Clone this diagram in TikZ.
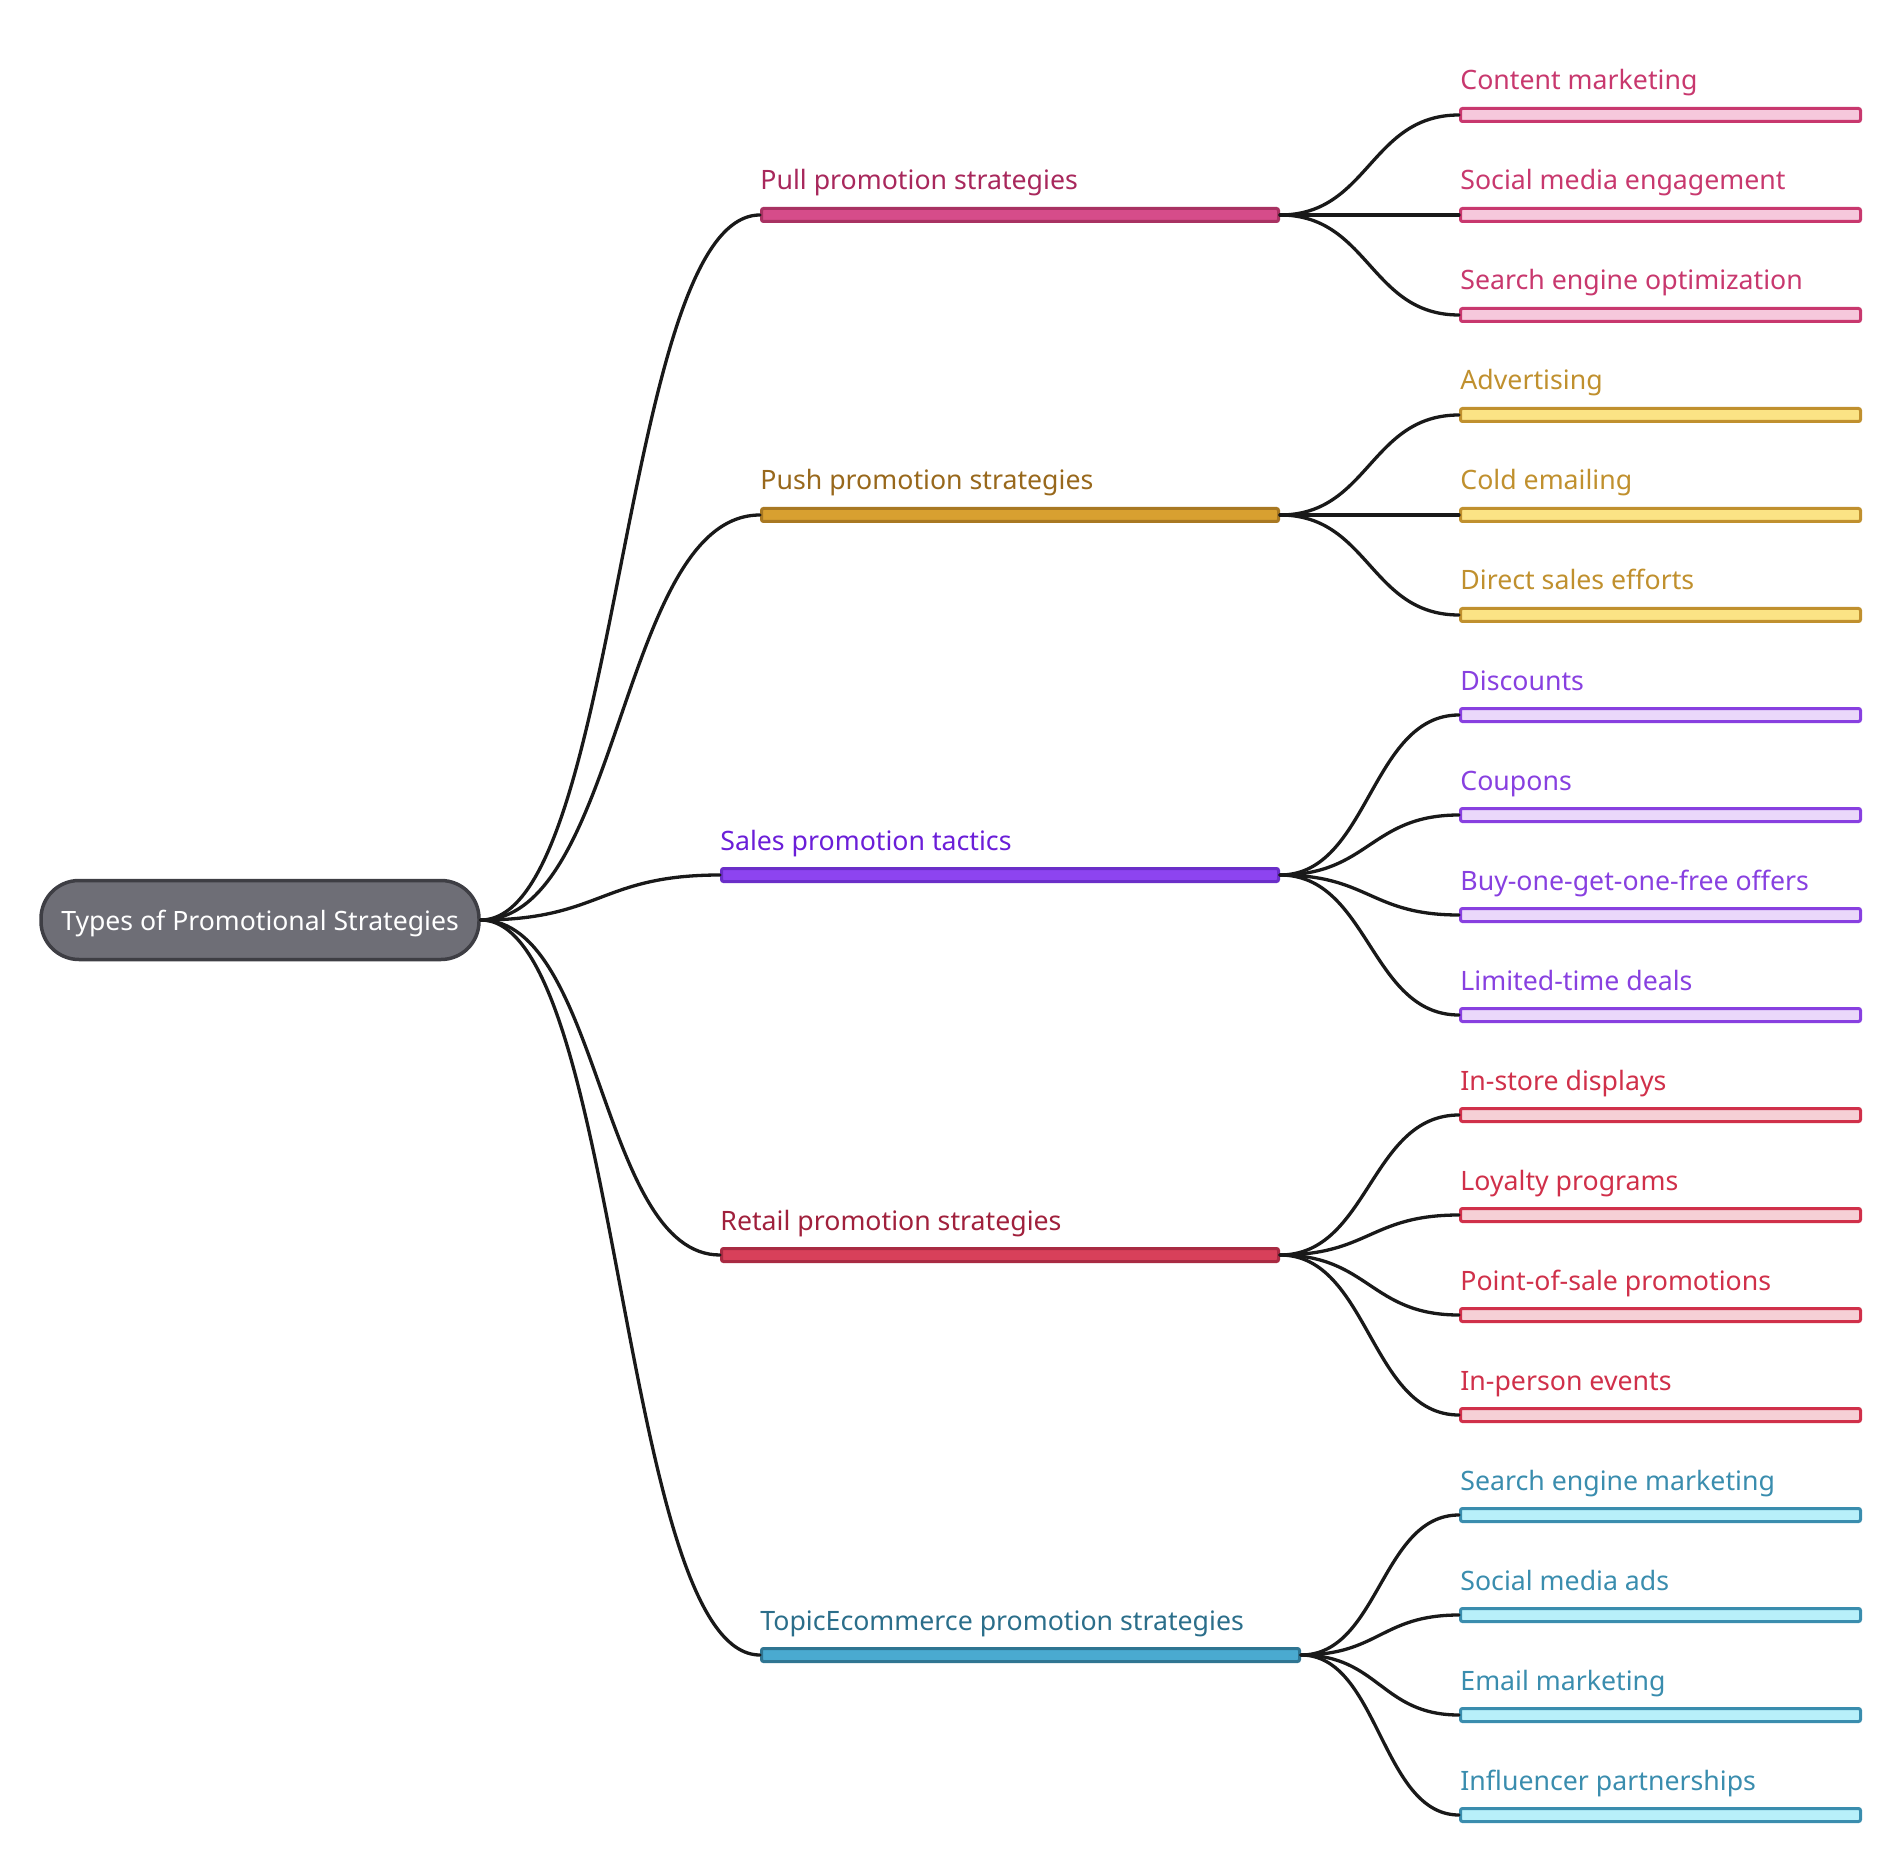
\documentclass[tikz,border=0pt]{standalone}
\usepackage{fontspec}
\setmainfont{Noto Sans}
\definecolor{rootfill}{HTML}{6E6E76}
\definecolor{rootline}{HTML}{3E3E44}
\definecolor{pullT}{HTML}{A8285C}\definecolor{pullF}{HTML}{D64C8A}\definecolor{pullD}{HTML}{A83262}
\definecolor{pullL}{HTML}{C8386E}\definecolor{pullLF}{HTML}{F6C8DC}
\definecolor{pushT}{HTML}{98681C}\definecolor{pushF}{HTML}{D8A030}\definecolor{pushD}{HTML}{A87822}
\definecolor{pushL}{HTML}{C0902E}\definecolor{pushLF}{HTML}{FBE385}
\definecolor{saleT}{HTML}{6B1ED8}\definecolor{saleF}{HTML}{8D44F0}\definecolor{saleD}{HTML}{6A2EC8}
\definecolor{saleL}{HTML}{8840E0}\definecolor{saleLF}{HTML}{EAD8FA}
\definecolor{retT}{HTML}{A0203C}\definecolor{retF}{HTML}{D8405A}\definecolor{retD}{HTML}{A82A42}
\definecolor{retL}{HTML}{D0304A}\definecolor{retLF}{HTML}{F6D0D6}
\definecolor{ecoT}{HTML}{2B6E8A}\definecolor{ecoF}{HTML}{4AAAD0}\definecolor{ecoD}{HTML}{2F7592}
\definecolor{ecoL}{HTML}{3A8DAE}\definecolor{ecoLF}{HTML}{B8F0FA}
\begin{document}
\begin{tikzpicture}[x=0.5pt,y=-0.5pt,line cap=round]
	\tikzstyle{root}=[draw=rootline,fill=rootfill,line width=1.75pt,rounded corners=19pt,minimum width=219pt,minimum height=39.5pt,inner sep=0pt,text depth=0pt,text=white,font=\fontsize{13.3pt}{16pt}\selectfont];
	\tikzstyle{bar}=[rounded corners=1pt,line width=1.5pt,minimum height=6.5pt,inner sep=0pt,anchor=west];
	\tikzstyle{txt}=[anchor=base west,inner sep=0pt,font=\fontsize{13.35pt}{16pt}\selectfont];
	\tikzstyle{link}=[draw=black!90,line width=1.65pt];
	\useasboundingbox (0,0) rectangle (1901,1861);
	\node[root] (root) at (260,920) {Types of Promotional Strategies};
	% first level
	\node[bar,draw=pullD,fill=pullF,minimum width=258.5pt] (pull) at (760,215) {};
	\node[bar,draw=pushD,fill=pushF,minimum width=258.5pt] (push) at (760,515) {};
	\node[bar,draw=saleD,fill=saleF,minimum width=278.5pt] (sale) at (720,875) {};
	\node[bar,draw=retD,fill=retF,minimum width=278.5pt] (ret) at (720,1255) {};
	\node[bar,draw=ecoD,fill=ecoF,minimum width=269pt] (eco) at (760,1655) {};
	\node[txt,text=pullT] (pullt) at (760,190) {Pull promotion strategies};
	\node[txt,text=pushT] (pusht) at (760,490) {Push promotion strategies};
	\node[txt,text=saleT] (salet) at (720,850) {Sales promotion tactics};
	\node[txt,text=retT] (rett) at (720,1230) {Retail promotion strategies};
	\node[txt,text=ecoT] (ecot) at (760,1630) {TopicEcommerce promotion strategies};
	% leaves
	\node[bar,draw=pullL,fill=pullLF,minimum width=200pt] (cm) at (1459,115) {};
	\node[bar,draw=pullL,fill=pullLF,minimum width=200pt] (sme) at (1459,215) {};
	\node[bar,draw=pullL,fill=pullLF,minimum width=200pt] (seo) at (1459,315) {};
	\node[bar,draw=pushL,fill=pushLF,minimum width=200pt] (adv) at (1459,415) {};
	\node[bar,draw=pushL,fill=pushLF,minimum width=200pt] (cold) at (1459,515) {};
	\node[bar,draw=pushL,fill=pushLF,minimum width=200pt] (dse) at (1459,615) {};
	\node[bar,draw=saleL,fill=saleLF,minimum width=200pt] (disc) at (1459,715) {};
	\node[bar,draw=saleL,fill=saleLF,minimum width=200pt] (coup) at (1459,815) {};
	\node[bar,draw=saleL,fill=saleLF,minimum width=200pt] (bogo) at (1459,915) {};
	\node[bar,draw=saleL,fill=saleLF,minimum width=200pt] (ltd) at (1459,1015) {};
	\node[bar,draw=retL,fill=retLF,minimum width=200pt] (isd) at (1459,1115) {};
	\node[bar,draw=retL,fill=retLF,minimum width=200pt] (loy) at (1459,1215) {};
	\node[bar,draw=retL,fill=retLF,minimum width=200pt] (pos) at (1459,1315) {};
	\node[bar,draw=retL,fill=retLF,minimum width=200pt] (ipe) at (1459,1415) {};
	\node[bar,draw=ecoL,fill=ecoLF,minimum width=200pt] (sem) at (1459,1515) {};
	\node[bar,draw=ecoL,fill=ecoLF,minimum width=200pt] (sma) at (1459,1615) {};
	\node[bar,draw=ecoL,fill=ecoLF,minimum width=200pt] (em) at (1459,1715) {};
	\node[bar,draw=ecoL,fill=ecoLF,minimum width=200pt] (inf) at (1459,1815) {};
	\node[txt,text=pullL] (cmt) at (1460,90) {Content marketing};
	\node[txt,text=pullL] (smet) at (1460,190) {Social media engagement};
	\node[txt,text=pullL] (seot) at (1460,290) {Search engine optimization};
	\node[txt,text=pushL] (advt) at (1460,390) {Advertising};
	\node[txt,text=pushL] (coldt) at (1460,490) {Cold emailing};
	\node[txt,text=pushL] (dset) at (1460,590) {Direct sales efforts};
	\node[txt,text=saleL] (disct) at (1460,690) {Discounts};
	\node[txt,text=saleL] (coupt) at (1460,790) {Coupons};
	\node[txt,text=saleL] (bogot) at (1460,890) {Buy-one-get-one-free offers};
	\node[txt,text=saleL] (ltdt) at (1460,990) {Limited-time deals};
	\node[txt,text=retL] (isdt) at (1460,1090) {In-store displays};
	\node[txt,text=retL] (loyt) at (1460,1190) {Loyalty programs};
	\node[txt,text=retL] (post) at (1460,1290) {Point-of-sale promotions};
	\node[txt,text=retL] (ipet) at (1460,1390) {In-person events};
	\node[txt,text=ecoL] (semt) at (1460,1490) {Search engine marketing};
	\node[txt,text=ecoL] (smat) at (1460,1590) {Social media ads};
	\node[txt,text=ecoL] (emt) at (1460,1690) {Email marketing};
	\node[txt,text=ecoL] (inft) at (1460,1790) {Influencer partnerships};
	% links
	\draw[link] (root.east) .. controls +(140,0) and +(-140,0) .. (pull.west);
	\draw[link] (root.east) .. controls +(140,0) and +(-140,0) .. (push.west);
	\draw[link] (root.east) .. controls +(120,0) and +(-120,0) .. (sale.west);
	\draw[link] (root.east) .. controls +(120,0) and +(-120,0) .. (ret.west);
	\draw[link] (root.east) .. controls +(140,0) and +(-140,0) .. (eco.west);
	\draw[link] (pull.east) .. controls +(89,0) and +(-89,0) .. (cm.west);
	\draw[link] (pull.east) .. controls +(89,0) and +(-89,0) .. (sme.west);
	\draw[link] (pull.east) .. controls +(89,0) and +(-89,0) .. (seo.west);
	\draw[link] (push.east) .. controls +(89,0) and +(-89,0) .. (adv.west);
	\draw[link] (push.east) .. controls +(89,0) and +(-89,0) .. (cold.west);
	\draw[link] (push.east) .. controls +(89,0) and +(-89,0) .. (dse.west);
	\draw[link] (sale.east) .. controls +(89,0) and +(-89,0) .. (disc.west);
	\draw[link] (sale.east) .. controls +(89,0) and +(-89,0) .. (coup.west);
	\draw[link] (sale.east) .. controls +(89,0) and +(-89,0) .. (bogo.west);
	\draw[link] (sale.east) .. controls +(89,0) and +(-89,0) .. (ltd.west);
	\draw[link] (ret.east) .. controls +(89,0) and +(-89,0) .. (isd.west);
	\draw[link] (ret.east) .. controls +(89,0) and +(-89,0) .. (loy.west);
	\draw[link] (ret.east) .. controls +(89,0) and +(-89,0) .. (pos.west);
	\draw[link] (ret.east) .. controls +(89,0) and +(-89,0) .. (ipe.west);
	\draw[link] (eco.east) .. controls +(78,0) and +(-78,0) .. (sem.west);
	\draw[link] (eco.east) .. controls +(78,0) and +(-78,0) .. (sma.west);
	\draw[link] (eco.east) .. controls +(78,0) and +(-78,0) .. (em.west);
	\draw[link] (eco.east) .. controls +(78,0) and +(-78,0) .. (inf.west);
\end{tikzpicture}
\end{document}
